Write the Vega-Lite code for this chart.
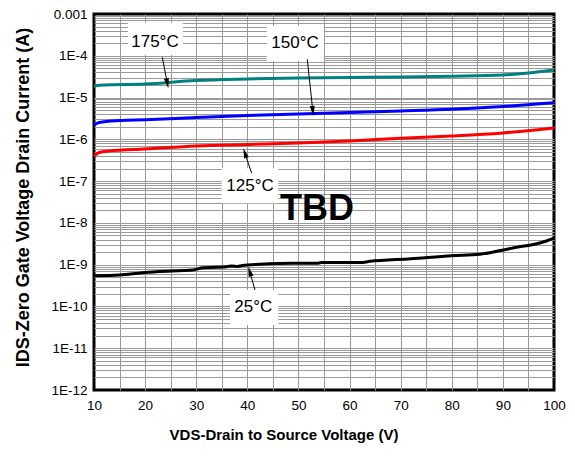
{
  "$schema": "https://vega.github.io/schema/vega-lite/v6.json",
  "width": 460,
  "height": 376,
  "autosize": {"type": "none"},
  "padding": {"left": 94, "top": 14, "right": 21, "bottom": 67},
  "background": "white",
  "config": {"font": "Liberation Sans", "view": {"stroke": "#000", "strokeWidth": 3}},
  "datasets": {
    "curves": [
      {"V": 10, "I": 1.90e-5, "T": "175"},
      {"V": 12, "I": 2.00e-5, "T": "175"},
      {"V": 20, "I": 2.11e-5, "T": "175"},
      {"V": 30, "I": 2.55e-5, "T": "175"},
      {"V": 40, "I": 2.78e-5, "T": "175"},
      {"V": 50, "I": 2.94e-5, "T": "175"},
      {"V": 60, "I": 3.02e-5, "T": "175"},
      {"V": 70, "I": 3.10e-5, "T": "175"},
      {"V": 80, "I": 3.23e-5, "T": "175"},
      {"V": 90, "I": 3.47e-5, "T": "175"},
      {"V": 95, "I": 3.87e-5, "T": "175"},
      {"V": 100, "I": 4.57e-5, "T": "175"},
      {"V": 10, "I": 2.20e-6, "T": "150"},
      {"V": 11, "I": 2.53e-6, "T": "150"},
      {"V": 15, "I": 2.82e-6, "T": "150"},
      {"V": 20, "I": 2.95e-6, "T": "150"},
      {"V": 30, "I": 3.33e-6, "T": "150"},
      {"V": 40, "I": 3.72e-6, "T": "150"},
      {"V": 50, "I": 4.04e-6, "T": "150"},
      {"V": 60, "I": 4.39e-6, "T": "150"},
      {"V": 70, "I": 4.77e-6, "T": "150"},
      {"V": 80, "I": 5.24e-6, "T": "150"},
      {"V": 90, "I": 6.11e-6, "T": "150"},
      {"V": 100, "I": 7.53e-6, "T": "150"},
      {"V": 10, "I": 3.99e-7, "T": "125"},
      {"V": 11, "I": 4.84e-7, "T": "125"},
      {"V": 13, "I": 5.26e-7, "T": "125"},
      {"V": 20, "I": 5.87e-7, "T": "125"},
      {"V": 30, "I": 6.92e-7, "T": "125"},
      {"V": 40, "I": 7.52e-7, "T": "125"},
      {"V": 50, "I": 8.16e-7, "T": "125"},
      {"V": 60, "I": 9.12e-7, "T": "125"},
      {"V": 70, "I": 1.06e-6, "T": "125"},
      {"V": 80, "I": 1.20e-6, "T": "125"},
      {"V": 90, "I": 1.42e-6, "T": "125"},
      {"V": 100, "I": 1.87e-6, "T": "125"},
      {"V": 10, "I": 5.44e-10, "T": "25"},
      {"V": 15, "I": 5.66e-10, "T": "25"},
      {"V": 19.5, "I": 6.42e-10, "T": "25"},
      {"V": 22.3, "I": 6.79e-10, "T": "25"},
      {"V": 29.4, "I": 7.45e-10, "T": "25"},
      {"V": 31.3, "I": 8.46e-10, "T": "25"},
      {"V": 34, "I": 8.65e-10, "T": "25"},
      {"V": 36, "I": 8.94e-10, "T": "25"},
      {"V": 37, "I": 9.35e-10, "T": "25"},
      {"V": 38, "I": 9.06e-10, "T": "25"},
      {"V": 39, "I": 9.55e-10, "T": "25"},
      {"V": 42.5, "I": 1.02e-9, "T": "25"},
      {"V": 48.9, "I": 1.078e-9, "T": "25"},
      {"V": 53.6, "I": 1.078e-9, "T": "25"},
      {"V": 54.5, "I": 1.12e-9, "T": "25"},
      {"V": 62, "I": 1.12e-9, "T": "25"},
      {"V": 64, "I": 1.20e-9, "T": "25"},
      {"V": 72, "I": 1.39e-9, "T": "25"},
      {"V": 80, "I": 1.64e-9, "T": "25"},
      {"V": 85.5, "I": 1.78e-9, "T": "25"},
      {"V": 89.5, "I": 2.18e-9, "T": "25"},
      {"V": 93, "I": 2.65e-9, "T": "25"},
      {"V": 96, "I": 3.04e-9, "T": "25"},
      {"V": 98.5, "I": 3.68e-9, "T": "25"},
      {"V": 100, "I": 4.35e-9, "T": "25"}
    ],
    "boxes": [
      {"id": "175", "V": 16.65, "V2": 27.41, "I": 1.045e-4, "I2": 6.09e-4},
      {"id": "150", "V": 43.79, "V2": 55.0, "I": 7.5e-5, "I2": 5.16e-4},
      {"id": "125", "V": 34.98, "V2": 46.06, "I": 2.94e-8, "I2": 2.03e-7},
      {"id": "25", "V": 36.61, "V2": 46.06, "I": 3.6e-11, "I2": 2.48e-10}
    ],
    "labels": [
      {"V": 21.93, "I": 2.17e-4, "text": "175°C"},
      {"V": 49.33, "I": 1.99e-4, "text": "150°C"},
      {"V": 40.52, "I": 7.64e-8, "text": "125°C"},
      {"V": 41.17, "I": 9.86e-11, "text": "25°C"}
    ],
    "arrows": [
      {"id": "175", "V": 23.36, "I": 9.20e-5, "V2": 24.35, "I2": 2.18e-5},
      {"id": "150", "V": 51.73, "I": 8.23e-5, "V2": 52.81, "I2": 4.77e-6},
      {"id": "125", "V": 40.85, "I": 1.54e-7, "V2": 39.52, "I2": 4.71e-7},
      {"id": "25", "V": 41.50, "I": 2.475e-10, "V2": 40.46, "I2": 6.86e-10}
    ],
    "heads": [
      {"id": "175", "V": 24.35, "I": 2.18e-5},
      {"id": "150", "V": 52.81, "I": 4.77e-6},
      {"id": "125", "V": 39.52, "I": 4.71e-7},
      {"id": "25", "V": 40.46, "I": 6.86e-10}
    ],
    "tbd": [
      {"V": 53.63, "I": 2.15e-8, "text": "TBD"}
    ]
  },
  "encoding": {
    "x": {
      "field": "V",
      "type": "quantitative",
      "scale": {"domain": [10, 100], "nice": false, "zero": false},
      "axis": {
        "values": [10, 15, 20, 25, 30, 35, 40, 45, 50, 55, 60, 65, 70, 75, 80, 85, 90, 95, 100],
        "labelExpr": "datum.value % 10 === 0 ? datum.label : ''",
        "format": "d",
        "labelFontSize": 13.5,
        "labelPadding": 8,
        "labelFlush": false,
        "labelOverlap": false,
        "labelColor": "#000",
        "ticks": false,
        "domain": false,
        "grid": true,
        "gridColor": {"condition": {"test": "datum.value <= 10.5 || datum.value >= 99.5", "value": "transparent"}, "value": "#999999"},
        "gridWidth": 1,
        "gridOpacity": 1,
        "title": "VDS-Drain to Source Voltage (V)",
        "titleFontSize": 15,
        "titleFontWeight": "bold",
        "titleColor": "#000",
        "titleX": 189.5,
        "titleY": 37
      }
    },
    "y": {
      "field": "I",
      "type": "quantitative",
      "scale": {"type": "log", "domain": [1e-12, 0.001], "nice": false},
      "axis": {
        "values": [1e-12, 2e-12, 3e-12, 4e-12, 5e-12, 6e-12, 7e-12, 8e-12, 9e-12,
                   1e-11, 2e-11, 3e-11, 4e-11, 5e-11, 6e-11, 7e-11, 8e-11, 9e-11,
                   1e-10, 2e-10, 3e-10, 4e-10, 5e-10, 6e-10, 7e-10, 8e-10, 9e-10,
                   1e-9, 2e-9, 3e-9, 4e-9, 5e-9, 6e-9, 7e-9, 8e-9, 9e-9,
                   1e-8, 2e-8, 3e-8, 4e-8, 5e-8, 6e-8, 7e-8, 8e-8, 9e-8,
                   1e-7, 2e-7, 3e-7, 4e-7, 5e-7, 6e-7, 7e-7, 8e-7, 9e-7,
                   1e-6, 2e-6, 3e-6, 4e-6, 5e-6, 6e-6, 7e-6, 8e-6, 9e-6,
                   1e-5, 2e-5, 3e-5, 4e-5, 5e-5, 6e-5, 7e-5, 8e-5, 9e-5,
                   1e-4, 2e-4, 3e-4, 4e-4, 5e-4, 6e-4, 7e-4, 8e-4, 9e-4, 1e-3],
        "labelExpr": "abs(log(datum.value)/LN10 - round(log(datum.value)/LN10)) < 0.001 ? (round(log(datum.value)/LN10) == -3 ? '0.001' : '1E' + round(log(datum.value)/LN10)) : ''",
        "labelFontSize": 13.5,
        "labelPadding": 7,
        "labelOverlap": false,
        "labelColor": "#000",
        "ticks": false,
        "domain": false,
        "grid": true,
        "gridColor": {"condition": {"test": "datum.value < 1.5e-12 || datum.value > 0.00095", "value": "transparent"}, "value": "#999999"},
        "gridWidth": 1,
        "gridOpacity": 1,
        "title": "IDS-Zero Gate Voltage Drain Current (A)",
        "titleFontSize": 18,
        "titleFontWeight": "bold",
        "titleColor": "#000",
        "titleX": -62,
        "titleY": 183
      }
    }
  },
  "layer": [
    {
      "data": {"name": "curves"},
      "mark": {"type": "line", "strokeWidth": 3, "interpolate": "monotone"},
      "encoding": {
        "color": {
          "field": "T",
          "type": "nominal",
          "scale": {"domain": ["175", "150", "125", "25"], "range": ["#008080", "#0000ff", "#ff0000", "#000000"]},
          "legend": null
        }
      }
    },
    {
      "data": {"name": "boxes"},
      "mark": {"type": "rect", "fill": "white", "stroke": null},
      "encoding": {
        "x2": {"field": "V2"},
        "y2": {"field": "I2"}
      }
    },
    {
      "data": {"name": "labels"},
      "mark": {"type": "text", "fontSize": 17, "color": "#000", "align": "center", "baseline": "middle"},
      "encoding": {"text": {"field": "text"}}
    },
    {
      "data": {"name": "arrows"},
      "mark": {"type": "rule", "color": "#000", "strokeWidth": 1},
      "encoding": {
        "x2": {"field": "V2"},
        "y2": {"field": "I2"}
      }
    },
    {
      "data": {"name": "heads"},
      "transform": [{"filter": "datum.id == '175'"}],
      "mark": {"type": "point", "shape": "M0,-1L0.5,1L-0.5,1Z", "filled": true, "color": "#000", "opacity": 1, "size": 100, "angle": 169}
    },
    {
      "data": {"name": "heads"},
      "transform": [{"filter": "datum.id == '150'"}],
      "mark": {"type": "point", "shape": "M0,-1L0.5,1L-0.5,1Z", "filled": true, "color": "#000", "opacity": 1, "size": 100, "angle": 174}
    },
    {
      "data": {"name": "heads"},
      "transform": [{"filter": "datum.id == '125'"}],
      "mark": {"type": "point", "shape": "M0,-1L0.5,1L-0.5,1Z", "filled": true, "color": "#000", "opacity": 1, "size": 100, "angle": -18.6}
    },
    {
      "data": {"name": "heads"},
      "transform": [{"filter": "datum.id == '25'"}],
      "mark": {"type": "point", "shape": "M0,-1L0.5,1L-0.5,1Z", "filled": true, "color": "#000", "opacity": 1, "size": 100, "angle": -16}
    },
    {
      "data": {"name": "tbd"},
      "mark": {"type": "text", "fontSize": 36, "fontWeight": "bold", "color": "#000", "align": "center", "baseline": "middle"},
      "encoding": {"text": {"field": "text"}}
    }
  ]
}
